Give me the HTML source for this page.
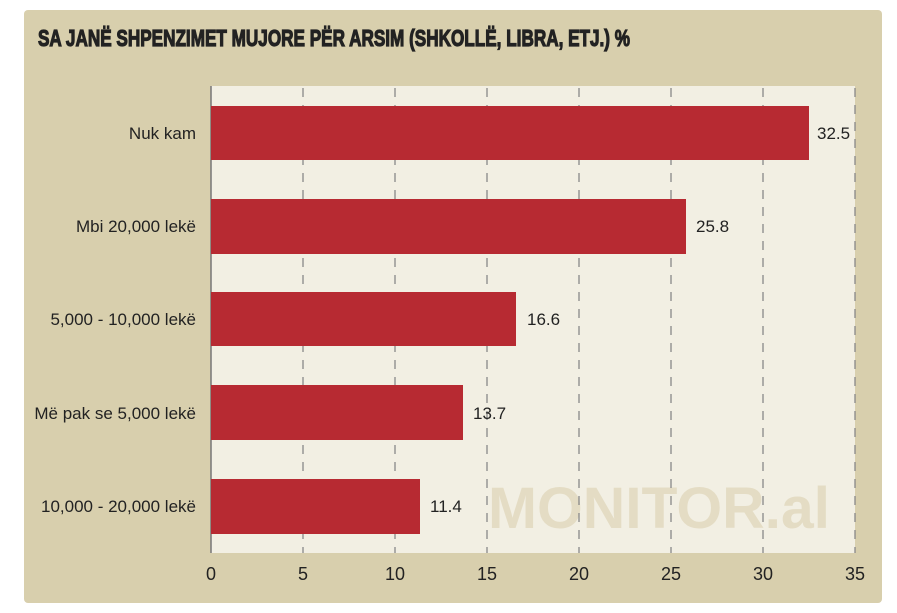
<!DOCTYPE html>
<html><head><meta charset="utf-8"><style>
body{margin:0;background:#fff;width:897px;height:608px;overflow:hidden}
</style></head><body>
<svg width="897" height="608" xmlns="http://www.w3.org/2000/svg" font-family="'Liberation Sans Narrow','Liberation Sans',sans-serif">
<rect x="24" y="10" width="858" height="593" rx="4" fill="#d8cfad"/>
<text x="38" y="46" font-size="23" font-weight="bold" fill="#222" stroke="#222" stroke-width="1.2" textLength="592" lengthAdjust="spacingAndGlyphs">SA JANË SHPENZIMET MUJORE PËR ARSIM (SHKOLLË, LIBRA, ETJ.) %</text>
<rect x="211" y="86" width="644" height="467" fill="#f2efe3"/>
<text x="488" y="528" font-size="58" font-weight="bold" fill="#e4dcc4" font-family="'Liberation Sans',sans-serif" textLength="342" lengthAdjust="spacingAndGlyphs">MONITOR.al</text>
<g stroke="#888" stroke-width="1.3" stroke-dasharray="9,8">
<line x1="303" y1="88" x2="303" y2="553"/><line x1="395" y1="88" x2="395" y2="553"/>
<line x1="487" y1="88" x2="487" y2="553"/><line x1="579" y1="88" x2="579" y2="553"/>
<line x1="671" y1="88" x2="671" y2="553"/><line x1="763" y1="88" x2="763" y2="553"/>
<line x1="855" y1="88" x2="855" y2="553"/>
</g>
<line x1="211" y1="86" x2="211" y2="553" stroke="#777" stroke-width="1.5"/>
<g fill="#b72a32">
<rect x="211" y="106" width="598" height="54"/>
<rect x="211" y="199" width="475" height="55"/>
<rect x="211" y="292" width="305" height="54"/>
<rect x="211" y="385" width="252" height="55"/>
<rect x="211" y="479" width="209" height="55"/>
</g>
<g font-size="17" fill="#222">
<g text-anchor="end">
<text x="196" y="139">Nuk kam</text>
<text x="196" y="232">Mbi 20,000 lekë</text>
<text x="196" y="325">5,000 - 10,000 lekë</text>
<text x="196" y="419">Më pak se 5,000 lekë</text>
<text x="196" y="512">10,000 - 20,000 lekë</text>
</g>
<text x="817" y="139">32.5</text>
<text x="696" y="232">25.8</text>
<text x="527" y="325">16.6</text>
<text x="473" y="419">13.7</text>
<text x="430" y="512">11.4</text>
<g text-anchor="middle" font-size="18">
<text x="211" y="580">0</text><text x="303" y="580">5</text><text x="395" y="580">10</text>
<text x="487" y="580">15</text><text x="579" y="580">20</text><text x="671" y="580">25</text>
<text x="763" y="580">30</text><text x="855" y="580">35</text>
</g>
</g>
</svg>
</body></html>
